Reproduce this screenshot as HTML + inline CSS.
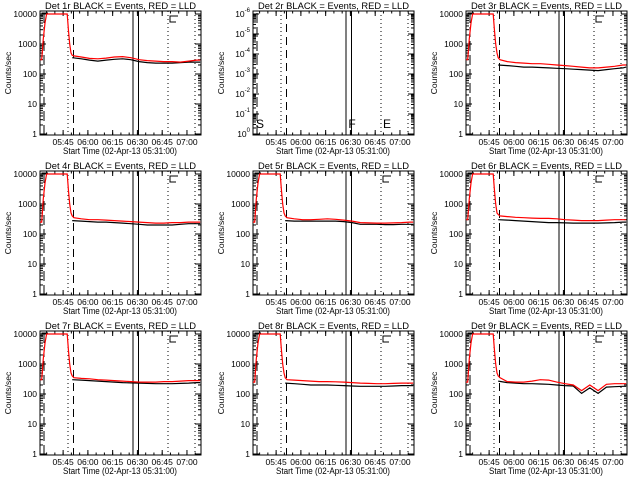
<!DOCTYPE html>
<html><head><meta charset="utf-8"><style>
html,body{margin:0;padding:0;background:#fff;}
svg{display:block;font-family:"Liberation Sans",sans-serif;}
</style></head><body>
<svg id="c" width="640" height="480" xmlns="http://www.w3.org/2000/svg"></svg>
<script>
const panelNames = ["1r","2r","3r","4r","5r","6r","7r","8r","9r"];
const xTickLabels = ["05:45","06:00","06:15","06:30","06:45","07:00"];
const xTickMinutes = [14,29,44,59,74,89];
const yTickLabels = ["1","10","100","1000","10000"];
const redTimes = [0,1,2,3,4,5,16.5,17.2,18,18.8,19.5,20.5,25,30,35,40,45,50,55,60,65,70,75,80,85,90,95,97];
const blackTimes = [19.5,25,30,35,40,45,50,55,60,65,70,75,80,85,90,95,97];
const red1 = [300,300,1500,5000,10000,10000,10000,3000,1000,500,420,400,370,330,320,340,370,380,350,300,280,270,260,260,250,270,290,290];
const black1 = [350,320,290,270,290,310,320,300,260,240,230,230,230,240,250,250,250];
const red3 = [300,300,1500,5000,10000,10000,10000,3000,1000,500,350,300,260,240,230,220,220,210,200,190,180,170,160,160,170,180,200,200];
const black3 = [200,190,180,170,170,165,160,155,150,145,140,135,130,140,150,160,170];
const red4 = [250,250,1500,5000,10000,10000,10000,3000,1000,500,400,350,320,300,300,290,280,270,260,250,240,230,230,240,240,250,250,250];
const black4 = [280,270,260,250,250,240,230,220,210,200,200,200,200,210,220,220,220];
const red5 = [250,250,1500,5000,10000,10000,10000,3000,1000,500,400,350,320,300,300,310,320,310,290,270,240,235,230,230,235,240,250,250];
const black5 = [280,270,270,270,270,270,270,260,240,210,210,210,205,205,210,210,210];
const red6 = [300,300,1500,5000,10000,10000,10000,3000,1000,500,450,400,380,360,350,340,330,330,320,300,290,280,280,280,290,300,300,300];
const black6 = [300,290,280,270,260,250,240,240,235,230,230,230,230,235,240,250,250];
const red7 = [300,300,1500,5000,10000,10000,10000,3000,1000,500,400,350,330,320,300,290,280,270,260,250,250,250,260,260,270,280,280,280];
const black7 = [300,290,280,270,260,250,240,235,230,225,220,220,220,225,230,240,240];
const red8 = [250,250,1500,5000,10000,10000,10000,3000,1000,500,350,300,290,280,270,260,260,255,250,240,230,225,220,220,225,230,230,230];
const black8 = [230,220,210,200,200,200,195,190,185,180,180,180,180,185,190,190,190];
const red9 = [250,250,1500,5000,10000,10000,10000,3000,1000,500,400,350,260,250,250,270,300,290,250,220,200,130,200,130,210,220,220,220];
const black9 = [270,240,230,220,220,215,210,200,190,185,105,160,105,170,175,180,180];
const redSeries = [red1,null,red3,red4,red5,red6,red7,red8,red9];
const blackSeries = [black1,null,black3,black4,black5,black6,black7,black8,black9];

const NS="http://www.w3.org/2000/svg";
const svg=document.getElementById("c");
function mk(tag,attrs,parent){const e=document.createElementNS(NS,tag);for(const k in attrs)e.setAttribute(k,attrs[k]);(parent||svg).appendChild(e);return e;}
const L=40,R=201,T=11,B=135,Y0=134,YTOP=14;
const xs=t=>L+t*(R-L)/97.5;
const ys=(v,d0,d1)=>Y0-(Math.log10(v)-d0)*(Y0-YTOP)/(d1-d0);

panelNames.forEach((nm,i)=>{
  const ox=(i%3)*213, oy=Math.floor(i/3)*160;
  const g=mk("g",{transform:`translate(${ox},${oy})`});
  
  
  const isEmpty=!redSeries[i];
  const d0=0,d1=isEmpty?6:4;
  const t=mk("text",{x:45,y:9,"font-size":"9.5",textLength:151,lengthAdjust:"spacingAndGlyphs",fill:"#000"},g);
  t.textContent=`Det ${nm} BLACK = Events, RED = LLD`;
  
  
  const yl=mk("text",{x:0,y:0,"font-size":"8.5","text-anchor":"middle",transform:"translate(11,73) rotate(-90)"},g);
  yl.textContent="Counts/sec";
  
  
  const xl=mk("text",{x:63,y:154,"font-size":"9",textLength:114,lengthAdjust:"spacingAndGlyphs"},g);
  xl.textContent="Start Time (02-Apr-13 05:31:00)";
  
  
  xTickMinutes.forEach((m,k)=>{
    const x=xs(m);
    mk("line",{x1:x,x2:x,y1:B,y2:B-5,stroke:"#000"},g);
    mk("line",{x1:x,x2:x,y1:T,y2:T+5,stroke:"#000"},g);
    const tl=mk("text",{x:x,y:145,"font-size":"8.5","text-anchor":"middle"},g);
    tl.textContent=xTickLabels[k];
    
    
  });
  for(let m=4;m<97;m+=5){const x=xs(m);mk("line",{x1:x,x2:x,y1:B,y2:B-2.5,stroke:"#000"},g);mk("line",{x1:x,x2:x,y1:T,y2:T+2.5,stroke:"#000"},g);}
  for(let d=d0;d<=d1;d++){
    const y=ys(Math.pow(10,d),d0,d1);
    mk("line",{x1:L,x2:L+6,y1:y,y2:y,stroke:"#000"},g);
    mk("line",{x1:R,x2:R-6,y1:y,y2:y,stroke:"#000"},g);
    const lab=mk("text",{x:37,y:y+3,"font-size":"8.5","text-anchor":"end"},g);
    if(isEmpty){lab.textContent="10";const s=mk("tspan",{dy:"-5","font-size":"6"},lab);s.textContent=d===0?"0":"-"+d;}
    else lab.textContent=yTickLabels[d];
    
    
    if(d<d1)for(let k=2;k<10;k++){const yy=ys(k*Math.pow(10,d),d0,d1);mk("line",{x1:L,x2:L+3,y1:yy,y2:yy,stroke:"#000"},g);mk("line",{x1:R,x2:R-3,y1:yy,y2:yy,stroke:"#000"},g);}
  }
  const vl=[[68,"1,3"],[73.5,"8,5"],[133,""],[138.5,""],[168,"1,3"],[195,"1,3"]];
  vl.forEach(([x,da])=>{const l=mk("line",{x1:x,x2:x,y1:T,y2:B,stroke:"#000","stroke-width":1,"stroke-dasharray":da},g);});
  mk("line",{x1:44,x2:44,y1:T+2,y2:B,stroke:"#000","stroke-dasharray":"10,4"},g);
  const box=mk("rect",{x:L,y:T,width:R-L,height:B-T,fill:"none",stroke:"#000"},g);
  
  
  if(isEmpty){
    [["S",47],["F",139],["E",174]].forEach(([s,x])=>{const tx=mk("text",{x:x,y:128,"font-size":"12","text-anchor":"middle"},g);tx.textContent=s;});
    return;
  }
  mk("path",{d:`M42,${T+6}V${T+2}H48`,fill:"none",stroke:"#000"},g);
  mk("path",{d:`M178,${T+5}H170V${T+11}H176`,fill:"none",stroke:"#000"},g);
  const pts=(ts,vs)=>ts.map((tm,k)=>`${xs(tm).toFixed(1)},${Math.max(ys(vs[k],d0,d1),YTOP).toFixed(1)}`).join(" ");
  const bl=mk("polyline",{points:pts(blackTimes,blackSeries[i]),fill:"none",stroke:"#000","stroke-width":1.2},g);
  
  
  const rl=mk("polyline",{points:pts(redTimes,redSeries[i]),fill:"none",stroke:"#ff0000","stroke-width":1.2},g);
  
  
});
</script>
</body></html>
